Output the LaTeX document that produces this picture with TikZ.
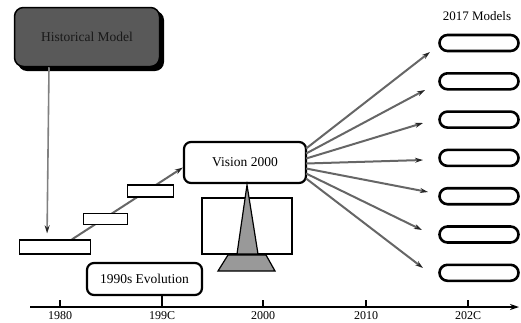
\documentclass[tikz,border=0pt]{standalone}
\usepackage{fontspec}
\setmainfont{Liberation Serif}
\usetikzlibrary{arrows.meta,calc,backgrounds}
\begin{document}
\begin{tikzpicture}[x=1pt,y=-1pt,
  roundbox/.style={draw=black, line width=2.2pt, rounded corners=7pt, fill=white, inner sep=0pt, font=\fontsize{13.5}{15}\selectfont},
  stepbox/.style={draw=black, line width=1.3pt, fill=white, inner sep=0pt},
  modelbox/.style={draw=black, line width=2.6pt, rounded corners=8pt, fill=white, minimum width=79pt, minimum height=16pt, inner sep=0pt},
  fan/.style={draw=black!60, line width=2pt, -{Stealth[length=8pt,width=5pt,black!85]}},
  flow/.style={draw=black!60, line width=2pt, -{Stealth[length=8pt,width=5pt,black!85]}},
  tick/.style={line width=1.5pt},
  lbl/.style={font=\fontsize{12}{14}\selectfont, inner sep=0pt},
  shade/.style={fill=black!40, draw=black, line width=1.2pt}
]
\useasboundingbox (0,0) rectangle (521,322);

% Historical model box with shadow
\fill[black, rounded corners=9pt] (18,11) rectangle (164,71);
\node[draw=black, line width=1.5pt, rounded corners=9pt, fill=black!65, minimum width=145pt, minimum height=59pt, inner sep=0pt, font=\fontsize{13.5}{15}\selectfont, text=black!90] (hist) at (87,37) {Historical Model};

% step boxes
\node[stepbox, minimum width=71pt, minimum height=14pt] (r1) at (55,247) {};
\node[stepbox, minimum width=44pt, minimum height=11pt] (r2) at (105.5,219) {};
\node[stepbox, minimum width=46pt, minimum height=12pt] (r3) at (150.5,191) {};

% Vision 2000
\node[roundbox, minimum width=122pt, minimum height=41pt] (vision) at (245,162.5) {Vision 2000};

% pedestal
\draw[line width=1.3pt, fill=white] (202,198) rectangle (292,254);
\draw[shade] (247,185) -- (258,254) -- (237,254) -- cycle;
\draw[shade] (228,255) -- (266,255) -- (275,271) -- (218,271) -- cycle;

% 1990s Evolution
\node[roundbox, minimum width=115pt, minimum height=32pt] (evo) at (144.5,279) {1990s Evolution};

% flows behind
\begin{scope}[on background layer]
\draw[flow] ([xshift=17pt]r1.north) -- ([yshift=-5pt]vision.west);
\end{scope}
\draw[draw=black!50, line width=1.6pt, -{Stealth[length=8pt,width=5pt,black!85]}, shorten >=6pt] ([xshift=-38pt]hist.south) -- ([xshift=-8pt]r1.north);

% axis
\coordinate (ax0) at (30,307);
\coordinate (ax1) at (519,307);
\draw[line width=1.5pt, -{Stealth[length=9pt,width=6pt]}] (ax0) -- (ax1);
\draw[tick] ([xshift=17.5pt]evo.south) -- (162,307);
\foreach \x/\t in {60/1980,162/199C,263/2000,366/2010,468/202C}{
  \ifnum\x=162\else\draw[tick] (\x,300) -- (\x,307);\fi
  \node[lbl] at (\x,316) {\t};
}

% models
\node[lbl, font=\fontsize{13}{14}\selectfont] (mtitle) at (477,16) {2017 Models};
\foreach \i in {1,...,7}{
  \node[modelbox] (m\i) at (479,{43+38.3*(\i-1)}) {};
}

% fan arrows
\coordinate (t1) at (430,52);
\coordinate (t2) at (425,90);
\coordinate (t3) at (423,123);
\coordinate (t4) at (423,160);
\coordinate (t5) at (428,192);
\coordinate (t6) at (422,230);
\coordinate (t7) at (423,268);
\foreach \i/\dy in {1/14,2/9,3/4,4/-1,5/-6,6/-11,7/-16}{
  \draw[fan] ([yshift=\dy pt,xshift=-1pt]vision.east) -- (t\i);
}
\end{tikzpicture}
\end{document}
